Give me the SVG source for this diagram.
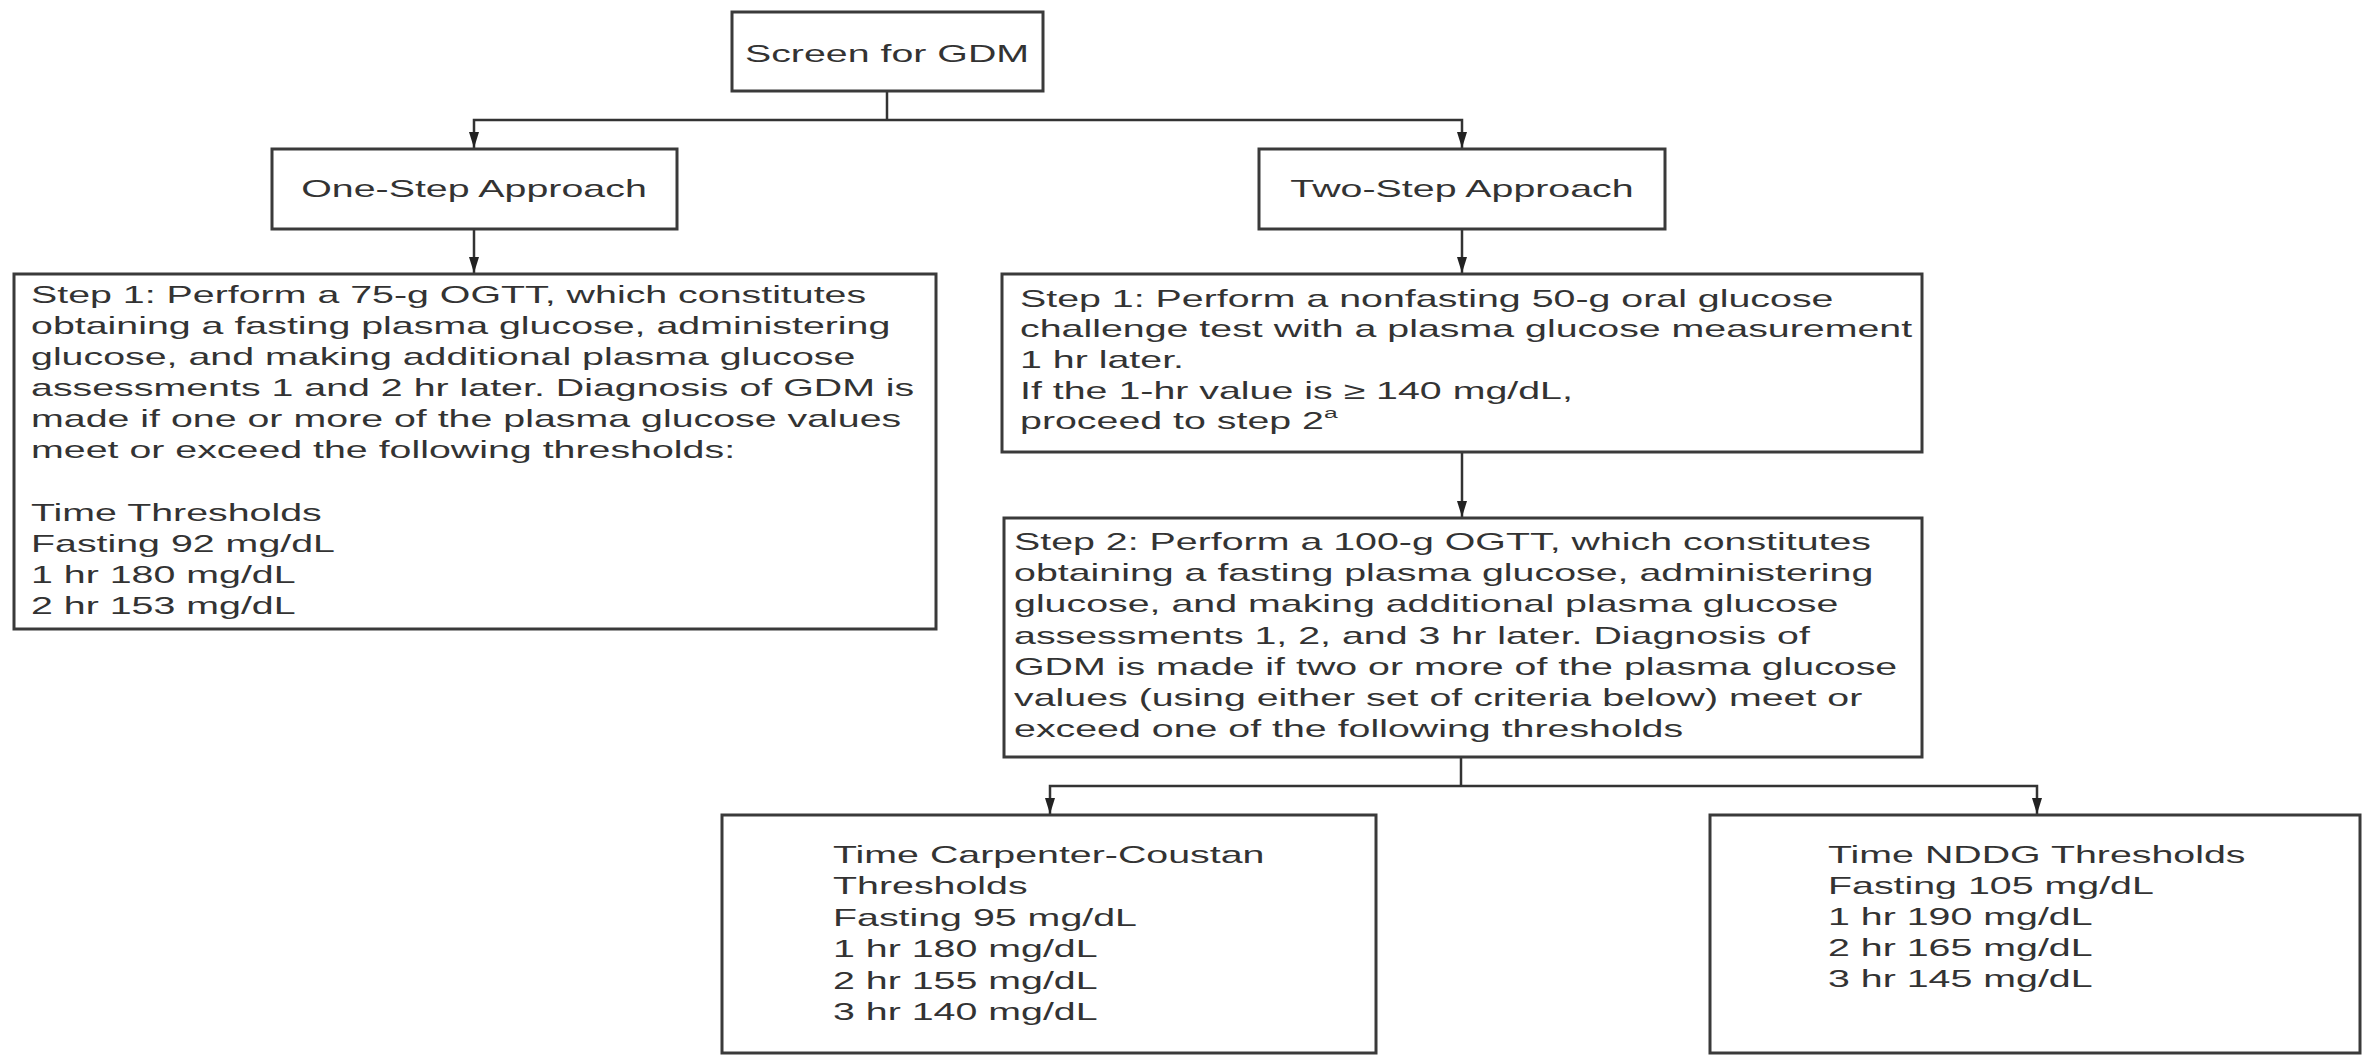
<svg xmlns="http://www.w3.org/2000/svg" width="2363" height="1055" viewBox="0 0 2363 1055">
<style>
.box{fill:#fff;stroke:#3a3a3a;stroke-width:3}
.ln{fill:none;stroke:#333;stroke-width:2.5}
.t{font-family:"Liberation Sans",Arial,Helvetica,sans-serif;font-size:24px;fill:#333}
.c{text-anchor:middle}
</style>
<defs>
<marker id="ah" viewBox="0 0 10 16" refX="5" refY="16" markerWidth="10" markerHeight="16" markerUnits="userSpaceOnUse" orient="auto-start-reverse">
<path d="M0,0 L10,0 L5,16 Z" fill="#222"/>
</marker>
<marker id="arr" viewBox="0 0 16 10" refX="16" refY="5" markerWidth="16" markerHeight="10" markerUnits="userSpaceOnUse" orient="auto">
<path d="M0,0 L16,5 L0,10 Z" fill="#222"/>
</marker>
</defs>
<rect width="2363" height="1055" fill="#fff"/>
<g id="connectors">
<path class="ln" d="M887,91 V120"/>
<path class="ln" d="M887,120 H474 V148" marker-end="url(#arr)"/>
<path class="ln" d="M887,120 H1462 V148" marker-end="url(#arr)"/>
<path class="ln" d="M474,229 V273" marker-end="url(#arr)"/>
<path class="ln" d="M1462,229 V273" marker-end="url(#arr)"/>
<path class="ln" d="M1462,452 V517" marker-end="url(#arr)"/>
<path class="ln" d="M1461,757 V786"/>
<path class="ln" d="M1461,786 H1050 V814" marker-end="url(#arr)"/>
<path class="ln" d="M1461,786 H2037 V814" marker-end="url(#arr)"/>
</g>
<g id="screen">
<rect class="box" x="732" y="12" width="311" height="79"/>
<text class="t c" transform="translate(887,62) scale(1.64,1)">Screen for GDM</text>
</g>
<g id="one-step">
<rect class="box" x="272" y="149" width="405" height="80"/>
<text class="t c" transform="translate(474,197) scale(1.64,1)">One-Step Approach</text>
</g>
<g id="two-step">
<rect class="box" x="1259" y="149" width="406" height="80"/>
<text class="t c" transform="translate(1462,197) scale(1.64,1)">Two-Step Approach</text>
</g>
<g id="one-step-step1">
<rect class="box" x="14" y="274" width="922" height="355"/>
<text class="t" transform="translate(31,303) scale(1.64,1)">
<tspan x="0" y="0">Step 1: Perform a 75-g OGTT, which constitutes</tspan>
<tspan x="0" dy="31">obtaining a fasting plasma glucose, administering</tspan>
<tspan x="0" dy="31">glucose, and making additional plasma glucose</tspan>
<tspan x="0" dy="31">assessments 1 and 2 hr later. Diagnosis of GDM is</tspan>
<tspan x="0" dy="31">made if one or more of the plasma glucose values</tspan>
<tspan x="0" dy="31">meet or exceed the following thresholds:</tspan>
<tspan x="0" dy="63">Time Thresholds</tspan>
<tspan x="0" dy="31">Fasting 92 mg/dL</tspan>
<tspan x="0" dy="31">1 hr 180 mg/dL</tspan>
<tspan x="0" dy="31">2 hr 153 mg/dL</tspan>
</text>
</g>
<g id="two-step-step1">
<rect class="box" x="1002" y="274" width="920" height="178"/>
<text class="t" transform="translate(1020,307) scale(1.64,1)">
<tspan x="0" y="0">Step 1: Perform a nonfasting 50-g oral glucose</tspan>
<tspan x="0" dy="30.5">challenge test with a plasma glucose measurement</tspan>
<tspan x="0" dy="30.5">1 hr later.</tspan>
<tspan x="0" dy="31">If the 1-hr value is ≥ 140 mg/dL,</tspan>
<tspan x="0" dy="30.5">proceed to step 2<tspan font-size="15" dy="-11">a</tspan></tspan>
</text>
</g>
<g id="two-step-step2">
<rect class="box" x="1004" y="518" width="918" height="239"/>
<text class="t" transform="translate(1014,550) scale(1.64,1)">
<tspan x="0" y="0">Step 2: Perform a 100-g OGTT, which constitutes</tspan>
<tspan x="0" dy="31.2">obtaining a fasting plasma glucose, administering</tspan>
<tspan x="0" dy="31.2">glucose, and making additional plasma glucose</tspan>
<tspan x="0" dy="31.2">assessments 1, 2, and 3 hr later. Diagnosis of</tspan>
<tspan x="0" dy="31.2">GDM is made if two or more of the plasma glucose</tspan>
<tspan x="0" dy="31.2">values (using either set of criteria below) meet or</tspan>
<tspan x="0" dy="31.2">exceed one of the following thresholds</tspan>
</text>
</g>
<g id="carpenter-coustan">
<rect class="box" x="722" y="815" width="654" height="238"/>
<text class="t" transform="translate(833,863) scale(1.64,1)">
<tspan x="0" y="0">Time Carpenter-Coustan</tspan>
<tspan x="0" dy="31.4">Thresholds</tspan>
<tspan x="0" dy="31.4">Fasting 95 mg/dL</tspan>
<tspan x="0" dy="31.4">1 hr 180 mg/dL</tspan>
<tspan x="0" dy="31.4">2 hr 155 mg/dL</tspan>
<tspan x="0" dy="31.4">3 hr 140 mg/dL</tspan>
</text>
</g>
<g id="nddg">
<rect class="box" x="1710" y="815" width="650" height="238"/>
<text class="t" transform="translate(1828,863) scale(1.64,1)">
<tspan x="0" y="0">Time NDDG Thresholds</tspan>
<tspan x="0" dy="31">Fasting 105 mg/dL</tspan>
<tspan x="0" dy="31">1 hr 190 mg/dL</tspan>
<tspan x="0" dy="31">2 hr 165 mg/dL</tspan>
<tspan x="0" dy="31">3 hr 145 mg/dL</tspan>
</text>
</g>
</svg>
